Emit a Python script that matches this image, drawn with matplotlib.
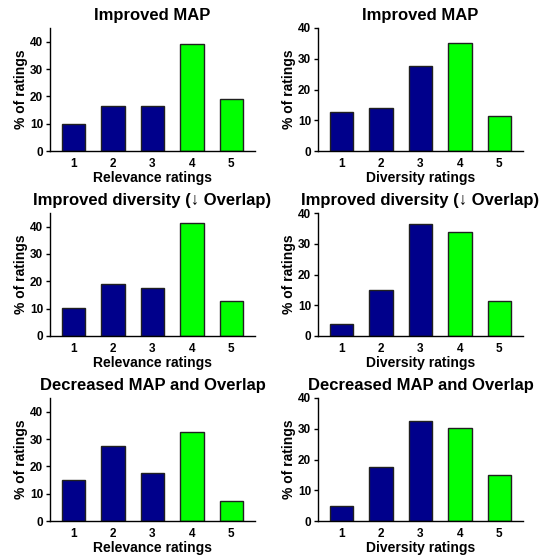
import matplotlib
matplotlib.use("Agg")
import matplotlib.pyplot as plt

plt.rcParams["font.family"] = ["Liberation Sans", "DejaVu Sans"]
plt.rcParams["font.weight"] = "bold"

ratings = [1, 2, 3, 4, 5]
row_titles = ["Improved MAP", "Improved diversity (\u2193 Overlap)",
              "Decreased MAP and Overlap"]

# % of ratings
relevance_improved_map = [10.0, 16.3, 16.3, 39.0, 18.9]
diversity_improved_map = [12.6, 13.9, 27.6, 35.1, 11.3]
relevance_improved_div = [10.1, 18.9, 17.4, 41.2, 12.7]
diversity_improved_div = [3.8, 15.1, 36.4, 33.8, 11.3]
relevance_decreased = [15.0, 27.4, 17.4, 32.6, 7.4]
diversity_decreased = [5.0, 17.5, 32.5, 30.1, 15.1]

relevance_rows = [relevance_improved_map, relevance_improved_div, relevance_decreased]
diversity_rows = [diversity_improved_map, diversity_improved_div, diversity_decreased]

BLUE = "#00008b"
GREEN = "#00ff00"
bar_colors = [BLUE, BLUE, BLUE, GREEN, GREEN]

W, H = 552, 557
fig = plt.figure(figsize=(W / 100, H / 100), dpi=100)


def panel(left_px, top_px, width_px, values, title, xlabel, ymax):
    ax = fig.add_axes([left_px / W, 1 - (top_px + 123) / H, width_px / W, 123 / H])
    ax.bar(ratings, values, width=0.6, color=bar_colors, edgecolor="#202020",
           linewidth=1.0)
    ax.set_xlim(0.4, 5.6)
    ax.set_ylim(0, ymax)
    ax.set_yticks([0, 10, 20, 30, 40])
    ax.set_xticks(ratings)
    for s in ("top", "right"):
        ax.spines[s].set_visible(False)
    for s in ("left", "bottom"):
        ax.spines[s].set_linewidth(1.0)
    ax.tick_params(axis="y", direction="out", length=3, width=1, pad=2,
                   labelsize=8.5)
    ax.tick_params(axis="x", length=0, pad=5, labelsize=8.5)
    for lab in ax.get_xticklabels() + ax.get_yticklabels():
        lab.set_fontweight("bold")
    ax.set_xlabel(xlabel, fontsize=10, fontweight="bold", labelpad=1)
    ax.set_ylabel("% of ratings", fontsize=10, fontweight="bold", labelpad=1)
    ax.set_title(title, fontsize=12, fontweight="bold", pad=6)
    return ax


tops = [28, 213, 398]
for i, top in enumerate(tops):
    panel(50, top, 205, relevance_rows[i], row_titles[i], "Relevance ratings", 45)
    panel(318, top, 205, diversity_rows[i], row_titles[i], "Diversity ratings", 40)

fig.savefig("out.png", dpi=100)
